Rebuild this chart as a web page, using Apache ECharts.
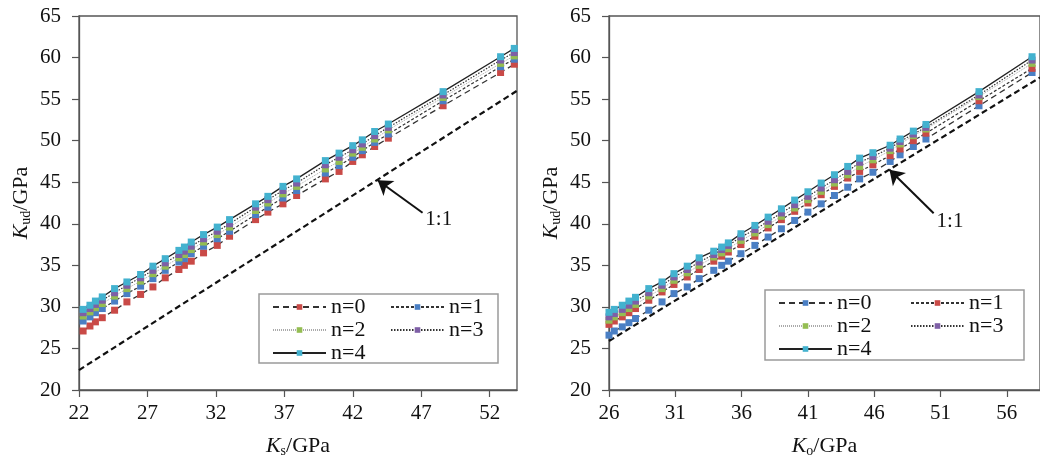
<!DOCTYPE html>
<html><head><meta charset="utf-8">
<script src="https://cdn.jsdelivr.net/npm/echarts@6/dist/echarts.min.js"></script>
<style>html,body{margin:0;padding:0;background:#fff}#c{width:1040px;height:459px}</style>
</head><body><div id="c"></div>
<script>
// ---------- Left panel (Ks) ----------
const leftX  = [22.3, 22.8, 23.2, 23.7, 24.6, 25.5, 26.5, 27.4, 28.3, 29.3, 29.7, 30.2, 31.1, 32.1, 33.0, 34.9, 35.8, 36.9, 37.9, 40.0, 41.0, 42.0, 42.7, 43.6, 44.6, 48.6, 52.8, 53.8];
const leftN0 = [27.1, 27.7, 28.2, 28.7, 29.6, 30.6, 31.5, 32.4, 33.5, 34.5, 35.0, 35.5, 36.5, 37.4, 38.5, 40.5, 41.4, 42.4, 43.4, 45.4, 46.3, 47.5, 48.3, 49.3, 50.3, 54.2, 58.2, 59.2];
const leftN1 = [28.3, 28.8, 29.3, 29.8, 30.7, 31.6, 32.5, 33.4, 34.4, 35.4, 35.8, 36.4, 37.3, 38.2, 39.1, 41.1, 42.0, 43.1, 44.0, 46.1, 47.0, 48.0, 48.8, 49.8, 50.8, 54.8, 58.9, 59.8];
const leftN2 = [28.9, 29.4, 29.9, 30.4, 31.3, 32.2, 33.1, 34.0, 34.9, 35.9, 36.3, 36.9, 37.8, 38.7, 39.6, 41.6, 42.5, 43.6, 44.5, 46.6, 47.5, 48.5, 49.2, 50.2, 51.3, 55.2, 59.3, 60.2];
const leftN3 = [29.3, 29.8, 30.3, 30.8, 31.7, 32.6, 33.5, 34.4, 35.3, 36.3, 36.7, 37.3, 38.2, 39.1, 40.0, 42.0, 42.9, 44.0, 44.9, 47.1, 48.0, 48.9, 49.6, 50.6, 51.6, 55.5, 59.7, 60.6];
const leftN4 = [29.7, 30.2, 30.7, 31.2, 32.2, 33.0, 33.9, 34.9, 35.8, 36.8, 37.2, 37.8, 38.7, 39.6, 40.5, 42.4, 43.3, 44.5, 45.4, 47.6, 48.5, 49.4, 50.1, 51.1, 52.0, 55.9, 60.1, 61.1];
const leftRefX = [22, 54];
const leftRefY = [22.4, 56.0];

// ---------- Right panel (Ko) ----------
const rightX  = [26.0, 26.4, 27.0, 27.5, 28.0, 29.0, 30.0, 30.9, 31.9, 32.8, 33.9, 34.5, 35.0, 35.95, 37.0, 38.0, 39.0, 40.0, 41.0, 42.0, 43.0, 44.0, 44.9, 45.9, 47.2, 47.95, 48.95, 49.9, 53.9, 57.9];
const rightN0 = [26.6, 27.1, 27.6, 28.1, 28.6, 29.6, 30.6, 31.6, 32.4, 33.4, 34.4, 35.0, 35.5, 36.4, 37.4, 38.4, 39.4, 40.4, 41.4, 42.4, 43.4, 44.4, 45.4, 46.2, 47.5, 48.3, 49.3, 50.2, 54.2, 58.2];
const rightN1 = [27.9, 28.3, 28.8, 29.3, 29.8, 30.8, 31.8, 32.7, 33.6, 34.5, 35.5, 36.1, 36.6, 37.5, 38.5, 39.5, 40.5, 41.5, 42.5, 43.5, 44.5, 45.5, 46.3, 47.1, 48.2, 49.0, 50.0, 50.9, 54.8, 58.7];
const rightN2 = [28.4, 28.8, 29.3, 29.8, 30.3, 31.3, 32.2, 33.2, 34.1, 35.0, 36.0, 36.5, 37.0, 38.0, 38.9, 39.9, 40.9, 41.9, 42.9, 43.9, 44.9, 45.9, 46.9, 47.7, 48.8, 49.6, 50.6, 51.4, 55.3, 59.3];
const rightN3 = [28.8, 29.2, 29.7, 30.2, 30.7, 31.7, 32.6, 33.6, 34.5, 35.4, 36.3, 36.9, 37.4, 38.4, 39.3, 40.3, 41.3, 42.3, 43.3, 44.3, 45.3, 46.3, 47.4, 48.1, 49.1, 49.9, 50.8, 51.6, 55.5, 59.7];
const rightN4 = [29.35, 29.7, 30.2, 30.7, 31.15, 32.2, 33.0, 34.0, 34.9, 35.9, 36.7, 37.2, 37.7, 38.8, 39.8, 40.8, 41.8, 42.85, 43.85, 44.9, 45.9, 46.9, 47.9, 48.55, 49.45, 50.2, 51.15, 51.95, 55.9, 60.1];
const rightRefX = [26, 58.5];
const rightRefY = [25.9, 57.6];

// annotation anchors (data coordinates)
const leftArrow  = [[47.1, 41.33], [43.82, 45.23]];
const rightArrow = [[50.48, 41.26], [47.15, 46.5]];
const leftNote   = [47.3, 40.5];
const rightNote  = [50.7, 40.3];

const FONT = "'Liberation Serif','Times New Roman',serif";
const AX = '#555';
const TXT = '#111';
const RED = '#c94a47', BLUE = '#4a7fc4', GREEN = '#94bd52', PURPLE = '#7e5fa6', CYAN = '#43b2cf';

const styles = {
  d0: {type: [6, 4], width: 1.3, color: '#333'},
  d1: {type: [3, 2], width: 1.2, color: '#333'},
  d2: {type: [1, 1], width: 1, color: '#aaa'},
  d3: {type: [1.5, 1.5], width: 1.2, color: '#333'},
  d4: {type: 'solid', width: 1.3, color: '#222'}
};

function pts(xs, ys) { return xs.map((x, i) => [x, ys[i]]); }
function mk(name, xs, ys, gi, color, ls) {
  return {
    name, type: 'line', xAxisIndex: gi, yAxisIndex: gi,
    data: pts(xs, ys), symbol: 'rect', symbolSize: 7,
    itemStyle: {color: color},
    lineStyle: ls, showSymbol: true, silent: true, z: 3
  };
}
function ref(xs, ys, gi, arrow) {
  return {
    type: 'line', xAxisIndex: gi, yAxisIndex: gi, data: pts(xs, ys),
    symbol: 'none', silent: true, z: 2,
    lineStyle: {type: [6, 3.5], width: 2.2, color: '#111'},
    markLine: {
      silent: true, animation: false, symbol: ['none', 'arrow'], symbolSize: 14,
      lineStyle: {type: 'solid', width: 2, color: '#111'},
      label: {show: false}, emphasis: {disabled: true},
      data: [[{coord: arrow[0]}, {coord: arrow[1]}]]
    }
  };
}

const rich = {
  i: {fontStyle: 'italic', fontSize: 22, lineHeight: 24, fontFamily: FONT, color: TXT},
  s: {fontSize: 14, lineHeight: 14, verticalAlign: 'bottom', fontFamily: FONT, color: TXT},
  t: {fontSize: 22, lineHeight: 24, fontFamily: FONT, color: TXT}
};

function xAx(gi, min, max, name) {
  return {
    type: 'value', gridIndex: gi, min, max, interval: 5,
    axisLine: {show: true, lineStyle: {color: AX, width: 1.3}},
    axisTick: {show: true, inside: false, length: 7, lineStyle: {color: AX, width: 1.2}},
    axisLabel: {fontFamily: FONT, fontSize: 21, color: TXT, margin: 13, showMaxLabel: false},
    splitLine: {show: false},
    name, nameLocation: 'middle', nameGap: 44,
    nameTextStyle: {rich}
  };
}
function yAx(gi) {
  return {
    type: 'value', gridIndex: gi, min: 20, max: 65, interval: 5,
    axisLine: {show: true, lineStyle: {color: AX, width: 1.3}},
    axisTick: {show: true, inside: false, length: 7, lineStyle: {color: AX, width: 1.2}},
    axisLabel: {fontFamily: FONT, fontSize: 21, color: TXT, margin: 18},
    splitLine: {show: false},
    name: '{i|K}{s|ud}{t|/GPa}', nameLocation: 'middle', nameGap: 46,
    nameTextStyle: {rich}
  };
}
function lg(names, left, top) {
  return {
    data: names, orient: 'vertical', left, top, padding: 0, itemGap: 1,
    itemWidth: 53, itemHeight: 7, selectedMode: false,
    textStyle: {fontFamily: FONT, fontSize: 22, lineHeight: 22, color: TXT}
  };
}

const chart = echarts.init(document.getElementById('c'), null, {renderer: 'canvas'});
chart.setOption({
  animation: false,
  backgroundColor: '#fff',
  grid: [
    {left: 79, top: 16, width: 438, height: 374, show: true, borderColor: AX, borderWidth: 1.3, backgroundColor: 'transparent', outerBoundsMode: 'none', containLabel: false},
    {left: 609, top: 16, width: 431, height: 374, show: true, borderColor: AX, borderWidth: 1.3, backgroundColor: 'transparent', outerBoundsMode: 'none', containLabel: false}
  ],
  xAxis: [xAx(0, 22, 54, '{i|K}{s|s}{t|/GPa}'), xAx(1, 26, 58.5, '{i|K}{s|o}{t|/GPa}')],
  yAxis: [yAx(0), yAx(1)],
  legend: [
    lg(['n=0', 'n=2', 'n=4'], 272, 296),
    lg(['n=1', 'n=3'], 390, 296),
    lg(['n=0 ', 'n=2 ', 'n=4 '], 778, 292),
    lg(['n=1 ', 'n=3 '], 910, 292)
  ],
  series: [
    ref(leftRefX, leftRefY, 0, leftArrow),
    mk('n=0', leftX, leftN0, 0, RED, styles.d0),
    mk('n=1', leftX, leftN1, 0, BLUE, styles.d1),
    mk('n=2', leftX, leftN2, 0, GREEN, styles.d2),
    mk('n=3', leftX, leftN3, 0, PURPLE, styles.d3),
    mk('n=4', leftX, leftN4, 0, CYAN, styles.d4),
    ref(rightRefX, rightRefY, 1, rightArrow),
    mk('n=0 ', rightX, rightN0, 1, BLUE, styles.d0),
    mk('n=1 ', rightX, rightN1, 1, RED, styles.d1),
    mk('n=2 ', rightX, rightN2, 1, GREEN, styles.d2),
    mk('n=3 ', rightX, rightN3, 1, PURPLE, styles.d3),
    mk('n=4 ', rightX, rightN4, 1, CYAN, styles.d4)
  ]
});

const pL = chart.convertToPixel({gridIndex: 0}, leftNote);
const pR = chart.convertToPixel({gridIndex: 1}, rightNote);
chart.setOption({
  graphic: [
    {type: 'rect', shape: {x: 259, y: 294, width: 239, height: 69}, style: {fill: 'none', stroke: '#9a9a9a', lineWidth: 1.5}, silent: true, z: 10},
    {type: 'rect', shape: {x: 765, y: 290, width: 259, height: 70}, style: {fill: 'none', stroke: '#9a9a9a', lineWidth: 1.5}, silent: true, z: 10},
    {type: 'text', x: pL[0], y: pL[1], style: {text: '1:1', font: "21px " + FONT, fill: TXT, textAlign: 'left', textVerticalAlign: 'middle'}, silent: true, z: 10},
    {type: 'text', x: pR[0], y: pR[1], style: {text: '1:1', font: "21px " + FONT, fill: TXT, textAlign: 'left', textVerticalAlign: 'middle'}, silent: true, z: 10}
  ]
});
</script>
</body></html>
